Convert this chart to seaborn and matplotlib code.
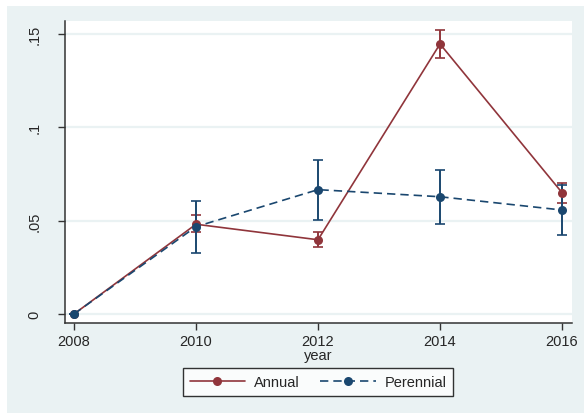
import numpy as np
import pandas as pd
import seaborn as sns
import matplotlib
matplotlib.use("Agg")
import matplotlib.pyplot as plt
from matplotlib.patches import Rectangle

# Mean share by year and life cycle, with confidence bounds
years = [2008, 2010, 2012, 2014, 2016]
annual = [0.0, 0.048, 0.0397, 0.1444, 0.0649]
annual_lo = [0.0, 0.044, 0.0357, 0.137, 0.0595]
annual_hi = [0.0, 0.053, 0.0437, 0.152, 0.070]
perennial = [0.0, 0.0467, 0.0665, 0.0627, 0.0556]
perennial_lo = [0.0, 0.0325, 0.0503, 0.0481, 0.0422]
perennial_hi = [0.0, 0.0604, 0.0825, 0.0772, 0.0691]
groups = ["Annual", "Perennial"]
y_ticks = [0, 0.05, 0.1, 0.15]
y_tick_labels = ["0", ".05", ".1", ".15"]

MAROON = "#90353b"
NAVY = "#1a476f"
BG = "#eaf2f3"

df = pd.DataFrame({
    "year": years * 2,
    "value": annual + perennial,
    "lo": annual_lo + perennial_lo,
    "hi": annual_hi + perennial_hi,
    "group": [groups[0]] * len(years) + [groups[1]] * len(years),
})

sns.set_style("white")
plt.rcParams["font.family"] = ["Liberation Sans", "DejaVu Sans"]

fig = plt.figure(figsize=(5.84, 4.14), dpi=100, facecolor="white")
fig.patches.append(Rectangle((7 / 584, 0), 1, 1 - 7 / 414, transform=fig.transFigure,
                             facecolor=BG, edgecolor="none", zorder=-10))
ax = fig.add_axes([65 / 584, 1 - 324 / 414, (572 - 65) / 584, (324 - 22) / 414])
ax.set_facecolor("white")

palette = {"Annual": MAROON, "Perennial": NAVY}
dashes = {"Annual": "", "Perennial": (5, 3)}

for g in groups:
    sub = df[df["group"] == g]
    ax.errorbar(sub["year"], sub["value"],
                yerr=[sub["value"] - sub["lo"], sub["hi"] - sub["value"]],
                fmt="none", ecolor=palette[g], elinewidth=1.4, capsize=3.5,
                capthick=1.2, zorder=3)

sns.lineplot(data=df, x="year", y="value", hue="group", style="group",
             palette=palette, dashes=dashes, markers={"Annual": "o", "Perennial": "o"},
             markersize=6.5, markeredgewidth=0, linewidth=1.2, ax=ax, zorder=4)

ax.set_xlim(2008 - 9 / 61, 2016 + 10 / 61)
ax.set_ylim(-9 / 1870, (315 - 22) / 1870)
ax.set_xticks(years)
ax.set_xticklabels([str(y) for y in years], fontsize=10.5)
ax.set_yticks(y_ticks)
ax.set_yticklabels(y_tick_labels, fontsize=10.5, rotation=90, va="center")
ax.grid(axis="y", color=BG, linewidth=1.6)
ax.grid(axis="x", visible=False)
ax.tick_params(axis="both", direction="out", length=5, width=1, color="#333333",
               left=True, bottom=True, pad=3)
ax.tick_params(axis="y", pad=12)
for s in ["top", "right"]:
    ax.spines[s].set_visible(False)
for s in ["left", "bottom"]:
    ax.spines[s].set_color("#333333")
    ax.spines[s].set_linewidth(1.1)

ax.set_xlabel("year", fontsize=10.5, labelpad=0)
ax.set_ylabel("")

handles, labels = ax.get_legend_handles_labels()
if ax.legend_:
    ax.legend_.remove()
leg = fig.legend(handles, labels, loc="center", bbox_to_anchor=(318 / 584, 1 - 383 / 414),
                 ncol=2, frameon=True, fancybox=False, edgecolor="black",
                 fontsize=10.5, handlelength=3.8, columnspacing=1.4, borderpad=0.45,
                 handletextpad=0.6)
leg.get_frame().set_linewidth(1.0)

fig.savefig("out.png", dpi=100, facecolor="white")
